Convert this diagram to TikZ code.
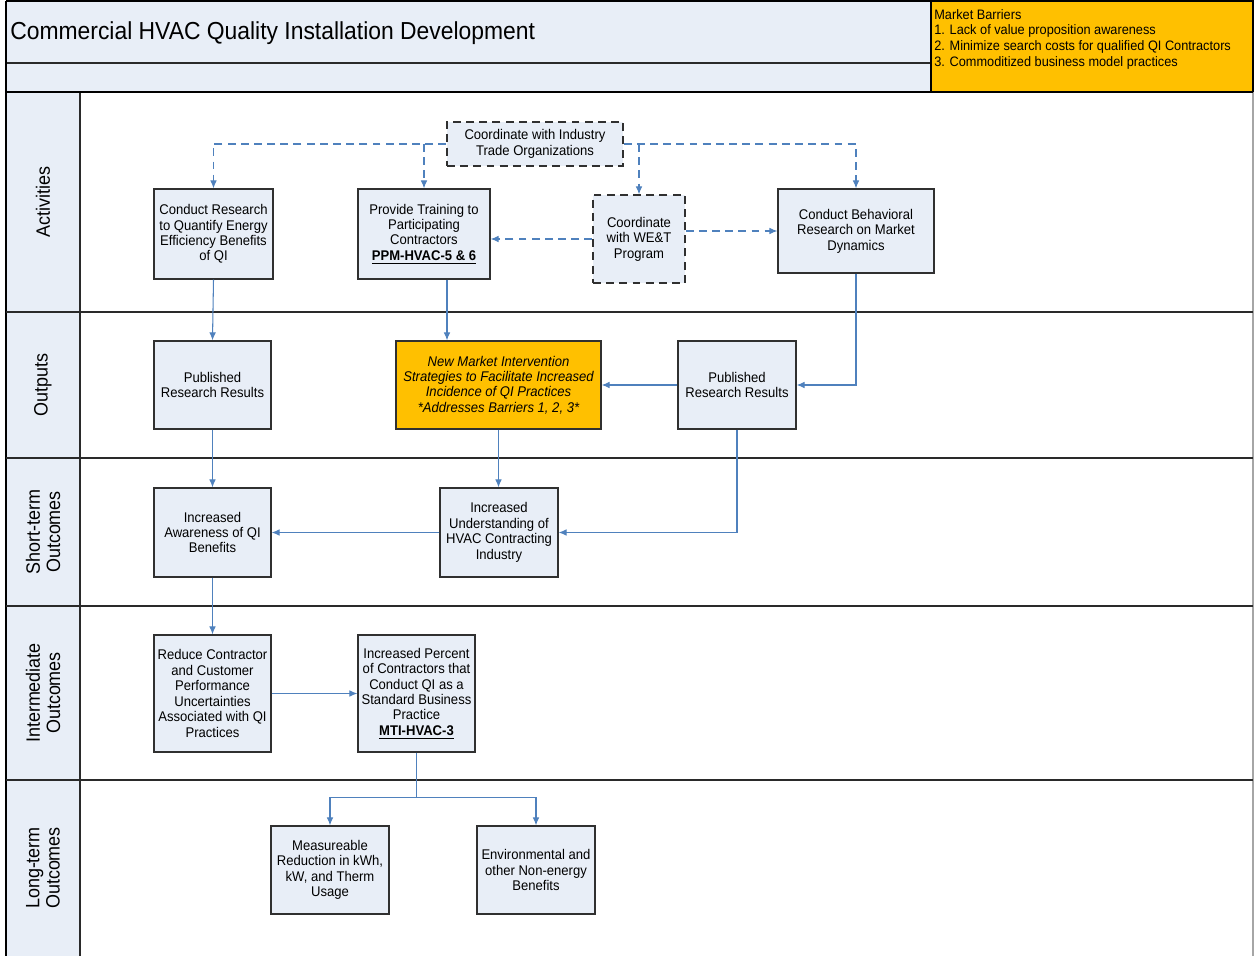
\documentclass[tikz,border=0pt]{standalone}
\usepackage{fontspec}
\setmainfont{Liberation Sans}[FakeStretch=0.93]
\usetikzlibrary{arrows.meta,calc}
\definecolor{boxfill}{HTML}{E8EEF7}
\definecolor{boxline}{HTML}{303030}
\definecolor{flow}{HTML}{4F81BD}
\definecolor{barrier}{HTML}{FFC000}
\definecolor{laneline}{HTML}{2A2A2A}
\begin{document}
\begin{tikzpicture}[x=0.02cm,y=-0.02cm,
  bw/.style={minimum width=#1*0.02cm},
  bh/.style={minimum height=#1*0.02cm},
  box/.style={draw=boxline,line width=0.75pt,fill=boxfill,align=center,
    inner sep=2pt,font=\fontsize{8}{8.8}\selectfont},
  dbox/.style={box,dash pattern=on 4.5pt off 3pt},
  hot/.style={box,fill=barrier,font=\fontsize{8}{8.8}\selectfont\itshape},
  arr/.style={draw=flow,line width=0.6pt,-{Latex[length=4.5pt,width=3.8pt]}},
  darr/.style={arr,dash pattern=on 4.5pt off 3pt},
  lane/.style={draw=laneline,line width=0.9pt},
  lanelabel/.style={rotate=90,align=center,font=\fontsize{11}{11.5}\selectfont}]
\useasboundingbox (0,0) rectangle (1255,956);

% header band
\fill[boxfill] (6,1) rectangle (930,92);
\draw[lane] (6,63) -- (930,63);
\node[anchor=west,inner sep=0pt,font=\fontsize{14}{16}\selectfont] (title) at (10,33)
  {Commercial HVAC Quality Installation Development};
\draw[line width=1.3pt] (931,1) rectangle (1253,92);
\fill[barrier] (932,2) rectangle (1252,91);
\node[anchor=north west,align=left,inner sep=0pt,
  font=\fontsize{7.8}{8.9}\selectfont] (barriers) at (934,9)
  {Market Barriers\\
   1. Lack of value proposition awareness\\
   2. Minimize search costs for qualified QI Contractors\\
   3. Commoditized business model practices};

% swim lanes
\fill[boxfill] (6,92) rectangle (80,956);
\draw[line width=1.3pt] (6,1) -- (6,956);
\draw[line width=1.3pt] (6,1) -- (931,1);
\draw[lane] (80,92) -- (80,956);
\draw[draw=gray!70,line width=0.9pt] (1253,92) -- (1253,956);
\draw[line width=1.1pt] (6,92) -- (1253,92);
\foreach \yy in {312,458,606,780} \draw[lane] (6,\yy) -- (1253,\yy);

\node[lanelabel] (lact) at (43,202) {Activities};
\node[lanelabel] (lout) at (43,385) {Outputs};
\node[lanelabel] (lst)  at (43,532) {Short-term\\Outcomes};
\node[lanelabel] (lint) at (43,693) {Intermediate\\Outcomes};
\node[lanelabel] (llt)  at (43,868) {Long-term\\Outcomes};

% activities
\node[box,bw=119,bh=90] (A1) at (213.5,234)
  {Conduct Research\\to Quantify Energy\\Efficiency Benefits\\of QI};
\node[box,bw=132,bh=90] (A2) at (424,234)
  {Provide Training to\\Participating\\Contractors\\\underline{\textbf{PPM-HVAC-5 \& 6}}};
\node[dbox,bw=176,bh=44] (CT) at (535,144)
  {Coordinate with Industry\\Trade Organizations};
\node[dbox,bw=92,bh=88] (CW) at (639,239)
  {Coordinate\\with WE\&T\\Program};
\node[box,bw=156,bh=84] (A4) at (856,231)
  {Conduct Behavioral\\Research on Market\\Dynamics};

% outputs
\node[box,bw=117,bh=88] (O1) at (212.5,385)
  {Published\\Research Results};
\node[hot,bw=205,bh=88] (O2) at (498.5,385)
  {New Market Intervention\\Strategies to Facilitate Increased\\Incidence of QI Practices\\*Addresses Barriers 1, 2, 3*};
\node[box,bw=118,bh=88] (O3) at (737,385)
  {Published\\Research Results};

% short-term outcomes
\node[box,bw=117,bh=89] (S1) at (212.5,532.5)
  {Increased\\Awareness of QI\\Benefits};
\node[box,bw=118,bh=89] (S2) at (499,532.5)
  {Increased\\Understanding of\\HVAC Contracting\\Industry};

% intermediate outcomes
\node[box,bw=117,bh=117] (I1) at (212.5,693.5)
  {Reduce Contractor\\and Customer\\Performance\\Uncertainties\\Associated with QI\\Practices};
\node[box,bw=117,bh=117] (I2) at (416.5,693.5)
  {Increased Percent\\of Contractors that\\Conduct QI as a\\Standard Business\\Practice\\\underline{\textbf{MTI-HVAC-3}}};

% long-term outcomes
\node[box,bw=118,bh=88] (L1) at (330,870)
  {Measureable\\Reduction in kWh,\\kW, and Therm\\Usage};
\node[box,bw=118,bh=88] (L2) at (536,870)
  {Environmental and\\other Non-energy\\Benefits};

% dashed coordination links
\draw[darr] (CT.west) -| (A1.north);
\draw[darr] (CT.west -| A2.north) -- (A2.north);
\draw[darr] (CT.east) -| (A4.north);
\draw[darr] (CT.east -| CW.north) -- (CW.north);
\draw[darr] (CW.west) -- (CW.west -| A2.east);
\draw[darr] (CW.east |- A4.west) -- (A4.west);

% activities to outputs
\draw[arr] (A1.south) -- (O1.north);
\path ($(A2.south)+(23,0)$) coordinate (a2b);
\draw[arr] (a2b) -- (a2b |- O2.north);
\draw[arr] (A4.south) |- (O3.east);
\draw[arr] (O3.west) -- (O2.east);

% outputs to short-term outcomes
\draw[arr] (O1.south) -- (S1.north);
\draw[arr] (O2.south) -- (O2.south |- S2.north);
\draw[arr] (O3.south) |- (S2.east);
\draw[arr] (S2.west) -- (S1.east);

% short-term to intermediate
\draw[arr] (S1.south) -- (I1.north);
\draw[arr] (I1.east) -- (I2.west);

% intermediate to long-term
\path ($(I2.south)+(0,45)$) coordinate (split);
\draw[arr] (I2.south) -- (split) -| (L1.north);
\draw[arr] (split) -| (L2.north);
\end{tikzpicture}
\end{document}
